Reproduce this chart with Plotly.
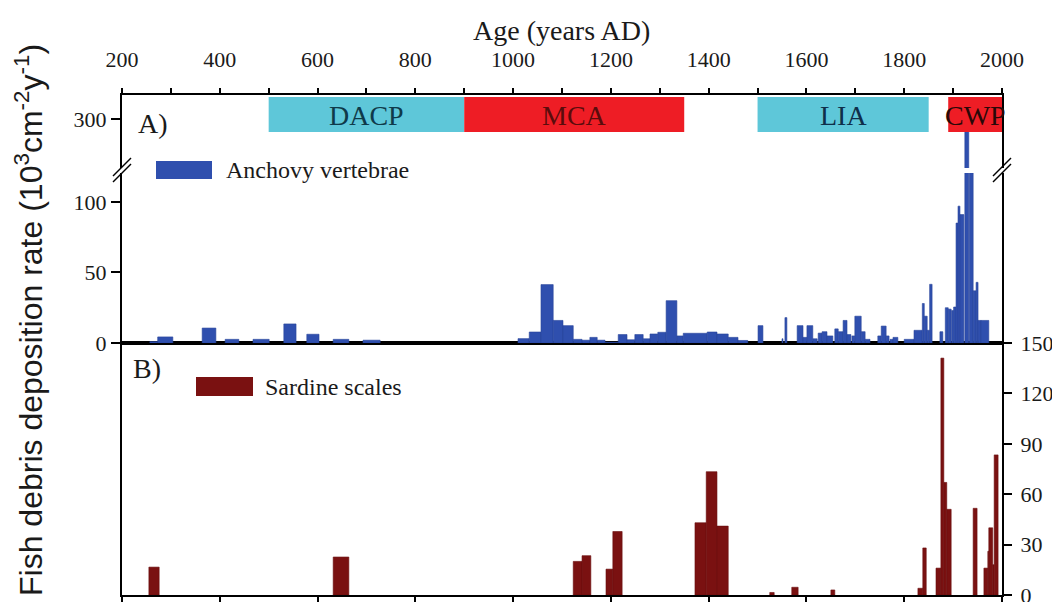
import plotly.graph_objects as go


# ==========================================
# DATA (sample age intervals, years AD)
# ==========================================

anchovy_age_start = [
    257, 273, 364, 411, 468, 531, 578, 632, 693,
    1010, 1033, 1057, 1082, 1102, 1123, 1141, 1157, 1172, 1188,
    1215, 1233, 1249, 1266, 1280, 1296, 1313, 1335, 1348, 1397,
    1417, 1440, 1460, 1501, 1550, 1556, 1581, 1593, 1601, 1613,
    1624, 1632, 1642, 1658, 1665, 1675, 1683, 1693, 1699, 1712,
    1720, 1746, 1753, 1763, 1771, 1777, 1800, 1820, 1837, 1841,
    1847, 1852, 1873, 1884, 1890, 1897, 1901, 1906, 1910, 1914,
    1924, 1933, 1941, 1947, 1951, 1957
]
anchovy_age_end = [
    273, 304, 392, 439, 501, 556, 603, 664, 728,
    1033, 1057, 1082, 1102, 1123, 1141, 1157, 1172, 1188, 1215,
    1233, 1249, 1266, 1280, 1296, 1313, 1335, 1348, 1397, 1417,
    1440, 1460, 1480, 1511, 1552, 1560, 1593, 1601, 1613, 1622,
    1632, 1642, 1654, 1665, 1675, 1683, 1691, 1699, 1712, 1720,
    1730, 1753, 1763, 1769, 1777, 1787, 1820, 1837, 1841, 1847,
    1852, 1857, 1879, 1890, 1896, 1901, 1906, 1910, 1914, 1922,
    1932, 1941, 1947, 1951, 1957, 1973
]
anchovy_rate = [
    1, 4.3, 10.6, 2.6, 2.6, 13.5, 6.2, 2.6, 2,
    3.1, 7.8, 41.4, 16, 12.3, 2.6, 2, 4, 2, 0.5,
    6, 2.3, 6, 3, 6.4, 7.6, 30, 5, 6.9, 7.8,
    6.4, 4, 1.8, 12.3, 3, 18, 12.3, 4, 12.3, 3,
    7, 8, 5, 10, 8, 16, 6, 5, 19, 8,
    2.6, 5, 12, 5, 2.6, 4, 2.6, 9, 28, 19,
    9, 41.6, 8, 25, 24, 23, 25.5, 85, 97, 91,
    292, 150, 37, 43, 16, 16
]

sardine_age_start = [
    255, 632, 1123, 1141, 1190, 1204, 1372, 1395, 1417, 1525,
    1570, 1650, 1828, 1838, 1865, 1875, 1881, 1887, 1941, 1963,
    1971, 1973, 1981, 1984
]
sardine_age_end = [
    276, 664, 1141, 1159, 1204, 1223, 1395, 1417, 1440, 1534,
    1583, 1658, 1838, 1845, 1875, 1881, 1887, 1896, 1949, 1971,
    1973, 1981, 1984, 1992
]
sardine_rate = [
    16.6, 22.6, 20, 23.4, 15.4, 37.8, 43, 73.4, 41, 1.5,
    4.6, 3, 4, 28, 16, 141, 67, 51, 51.6, 16,
    26, 40, 18, 83.4
]

periods = ["DACP", "MCA", "LIA", "CWP"]
period_start = [500, 900, 1500, 1890]
period_end = [900, 1350, 1850, 2000]


# ==========================================
# STYLE
# ==========================================

# page body has an 8px default margin, so the figure is offset by it
W, H = 1060, 602
OFF = 8
PLOT_L, PLOT_R, PLOT_T, PLOT_B = 122, 1002, 95, 595
PW, PH = PLOT_R - PLOT_L, PLOT_B - PLOT_T

BLUE = "#2f4fae"
DARK_RED = "#7a1111"
CYAN = "#5ec7d9"
RED = "#ee1d25"
SERIF = "Liberation Serif"
SANS = "Liberation Sans"
TXT = "#1a1a1a"


def px_x(p):
    return (p - PLOT_L) / PW


def px_y(p):
    return (PLOT_B - p) / PH


def centers(a, b):
    return [(s + e) / 2 for s, e in zip(a, b)]


def widths(a, b):
    return [e - s for s, e in zip(a, b)]


fig = go.Figure()

# ==========================================
# BARS
# ==========================================

for xa, ya in [("x2", "y2"), ("x3", "y3")]:
    fig.add_trace(go.Bar(
        x=centers(anchovy_age_start, anchovy_age_end),
        y=anchovy_rate,
        width=widths(anchovy_age_start, anchovy_age_end),
        marker=dict(color=BLUE, line=dict(color="#28449a", width=0.6)),
        xaxis=xa, yaxis=ya, showlegend=False
    ))

fig.add_trace(go.Bar(
    x=centers(sardine_age_start, sardine_age_end),
    y=sardine_rate,
    width=widths(sardine_age_start, sardine_age_end),
    marker=dict(color=DARK_RED, line=dict(color="#6a0d0d", width=0.6)),
    xaxis="x", yaxis="y", showlegend=False
))

# ==========================================
# AXES
# ==========================================

tick_font = dict(family=SERIF, size=22, color=TXT)
common = dict(showline=True, linecolor="black", linewidth=2,
              showgrid=False, zeroline=False, automargin=False,
              tickcolor="black", tickwidth=1.5)

y_split = px_y(343)

fig.update_layout(
    width=W, height=H,
    margin=dict(l=PLOT_L - OFF, r=W + OFF - PLOT_R,
                t=PLOT_T - OFF, b=H + OFF - PLOT_B, autoexpand=False),
    paper_bgcolor="white", plot_bgcolor="white",
    barmode="overlay",
    xaxis=dict(
        domain=[0, 1], range=[200, 2000], anchor="y",
        ticks="outside", ticklen=5, dtick=200, showticklabels=False,
        mirror=True, **common
    ),
    yaxis=dict(
        domain=[0, y_split], range=[0, 150], side="right", anchor="x",
        tickvals=[0, 30, 60, 90, 120, 150], ticks="outside", ticklen=8,
        tickfont=tick_font, ticklabelstandoff=4, mirror=True, **common
    ),
    xaxis2=dict(
        domain=[0, 1], range=[200, 2000], anchor="y2",
        showticklabels=False, ticks="", **common
    ),
    yaxis2=dict(
        domain=[y_split, px_y(173)], range=[0, 120.5], anchor="x2",
        tickvals=[0, 50, 100], ticks="outside", ticklen=9,
        tickfont=tick_font, mirror=True, **common
    ),
    xaxis3=dict(
        domain=[0, 1], range=[200, 2000], anchor="y3", side="top",
        tick0=200, dtick=200, ticks="outside", ticklen=5,
        minor=dict(dtick=100, ticks="outside", ticklen=5,
                   tickcolor="black", tickwidth=1.5),
        tickfont=tick_font, ticklabelstandoff=12, **common
    ),
    yaxis3=dict(
        domain=[px_y(168), 1], range=[265, 317], anchor="x3",
        tickvals=[300], ticks="outside", ticklen=9,
        tickfont=tick_font, mirror=True, **common
    ),
)

# ==========================================
# PERIOD BOXES
# ==========================================

period_fill = [CYAN, RED, CYAN, RED]
period_text = ["#0f3a4a", "#5a0c0c", "#0f2f4a", "#2a0808"]

for name, s, e, fc, tc in zip(periods, period_start, period_end,
                              period_fill, period_text):
    fig.add_shape(
        type="rect", xref="x3", yref="paper",
        x0=s, x1=e, y0=px_y(132), y1=px_y(97),
        fillcolor=fc, line=dict(width=0), layer="above"
    )
    fig.add_annotation(
        x=(s + e) / 2, y=px_y(115), xref="x3", yref="paper",
        text=name, showarrow=False, xanchor="center", yanchor="middle",
        font=dict(family=SERIF, size=28, color=tc)
    )

# ==========================================
# LEGENDS / LABELS
# ==========================================


def label(x, y, text, size, xanchor="left", angle=0, family=SERIF):
    fig.add_annotation(
        x=px_x(x), y=px_y(y), xref="paper", yref="paper",
        text=text, showarrow=False, xanchor=xanchor, yanchor="middle",
        textangle=angle, font=dict(family=family, size=size, color=TXT)
    )


fig.add_shape(type="rect", xref="paper", yref="paper",
              x0=px_x(156), x1=px_x(212), y0=px_y(179), y1=px_y(161),
              fillcolor=BLUE, line=dict(width=0))
label(224, 170, "Anchovy vertebrae", 24)

fig.add_shape(type="rect", xref="paper", yref="paper",
              x0=px_x(196), x1=px_x(253), y0=px_y(396), y1=px_y(377),
              fillcolor=DARK_RED, line=dict(width=0))
label(263, 387, "Sardine scales", 24)

label(136, 123, "A)", 28)
label(131, 368, "B)", 28)

label(561, 30, "Age (years AD)", 28, xanchor="center")

label(
    29, 320,
    "Fish debris deposition rate (10<sup>3</sup>cm<sup>-2</sup>y<sup>-1</sup>)",
    32, xanchor="center", angle=-90, family=SANS
)

# axis break marks
for cx in [122, 1002]:
    for off in [-3, 3]:
        fig.add_shape(type="line", xref="paper", yref="paper",
                      x0=px_x(cx - 9), y0=px_y(179 + off),
                      x1=px_x(cx + 9), y1=px_y(161 + off),
                      line=dict(color="black", width=1.5))

fig.write_html("out.html")
